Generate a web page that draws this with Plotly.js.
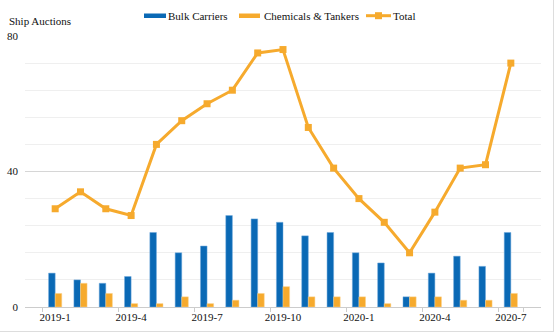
<!DOCTYPE html>
<html><head><meta charset="utf-8">
<script src="https://cdn.plot.ly/plotly-3.0.1.min.js"></script>
<style>html,body{margin:0;padding:0;background:#fff}#c{width:553px;height:331px;border-right:1px solid #ddd;border-bottom:1px solid #ddd}</style>
</head><body><div id="c"></div>
<script>
const months = ["2019-1","2019-2","2019-3","2019-4","2019-5","2019-6","2019-7","2019-8","2019-9","2019-10","2019-11","2019-12","2020-1","2020-2","2020-3","2020-4","2020-5","2020-6","2020-7"];
const bulkCarriers = [10,8,7,9,22,16,18,27,26,25,21,22,16,13,3,10,15,12,22];
const chemicalsTankers = [4,7,4,1,1,3,1,2,4,6,3,3,3,1,3,3,2,2,4];
const total = [29,34,29,27,48,55,60,64,75,76,53,41,32,25,16,28,41,42,72];
const tickLabels = ["2019-1","2019-4","2019-7","2019-10","2020-1","2020-4","2020-7"];
const seriesNames = ['Bulk Carriers','Chemicals & Tankers','Total'];

const blue = '#0A69B5', orange = '#F6AA2D';
const font = {family: 'Times New Roman, Liberation Serif, DejaVu Serif, serif', size: 11, color: '#111'};

const data = [
  {type:'bar', name:seriesNames[0], x:months, y:bulkCarriers, marker:{color:blue, line:{color:'#6fa8dc', width:0.5}}},
  {type:'bar', name:seriesNames[1], x:months, y:chemicalsTankers, marker:{color:orange, line:{color:'#fbd38d', width:0.5}}},
  {type:'scatter', mode:'lines+markers', name:seriesNames[2], x:months, y:total, line:{color:orange, width:3}, marker:{symbol:'square', size:7, color:orange}}
];

// custom legend (pixel -> paper helpers)
const L = 25, W = 516, T = 36, H = 271;
const px = v => (v - L) / W;
const py = v => (307 - v) / H;
const legY = 15.7;
const shapes = [
  {type:'rect', xref:'paper', yref:'paper', x0:px(144), x1:px(166), y0:py(18), y1:py(13.5), fillcolor:blue, line:{width:0}},
  {type:'rect', xref:'paper', yref:'paper', x0:px(239), x1:px(260), y0:py(18), y1:py(13.5), fillcolor:orange, line:{width:0}},
  {type:'line', xref:'paper', yref:'paper', x0:px(366), x1:px(391), y0:py(legY), y1:py(legY), line:{color:orange, width:3}},
  {type:'rect', xref:'paper', yref:'paper', x0:px(375), x1:px(382), y0:py(19.2), y1:py(12.2), fillcolor:orange, line:{width:0}}
];
const annotations = [
  {text:'Ship Auctions', xref:'paper', yref:'paper', x:px(7), xanchor:'left', y:py(21), yanchor:'middle', showarrow:false, font:font},
  {text:seriesNames[0], xref:'paper', yref:'paper', x:px(166), xanchor:'left', y:py(legY), yanchor:'middle', showarrow:false, font:font},
  {text:seriesNames[1], xref:'paper', yref:'paper', x:px(262), xanchor:'left', y:py(legY), yanchor:'middle', showarrow:false, font:font},
  {text:seriesNames[2], xref:'paper', yref:'paper', x:px(391), xanchor:'left', y:py(legY), yanchor:'middle', showarrow:false, font:font}
];

const layout = {
  width:553, height:331,
  margin:{l:25, r:12, t:36, b:24, autoexpand:false},
  paper_bgcolor:'#fff', plot_bgcolor:'#fff',
  font: font,
  barmode:'group', bargap:0.48, bargroupgap:0,
  showlegend:false,
  shapes: shapes,
  annotations: annotations,
  xaxis:{type:'category', categoryorder:'array', categoryarray:months, tickmode:'array', tickvals:tickLabels, ticktext:tickLabels, tickson:'boundaries', ticks:'outside', ticklen:4, tickcolor:'#ccc', showline:true, linecolor:'#ccc', linewidth:1, showgrid:false, tickfont:font, tickangle:0, automargin:false},
  yaxis:{range:[0,80], tickmode:'array', tickvals:[0,40,80], ticktext:['0','40','80'], showgrid:true, gridcolor:'#d6d6d6', gridwidth:1, zeroline:false, showline:false, ticks:'', tickfont:font, automargin:false, ticklabelstandoff:6,
    minor:{tickmode:'linear', tick0:0, dtick:8, showgrid:true, gridcolor:'#efefef', gridwidth:1}}
};
Plotly.newPlot('c', data, layout, {displayModeBar:false, staticPlot:true});
</script></body></html>
